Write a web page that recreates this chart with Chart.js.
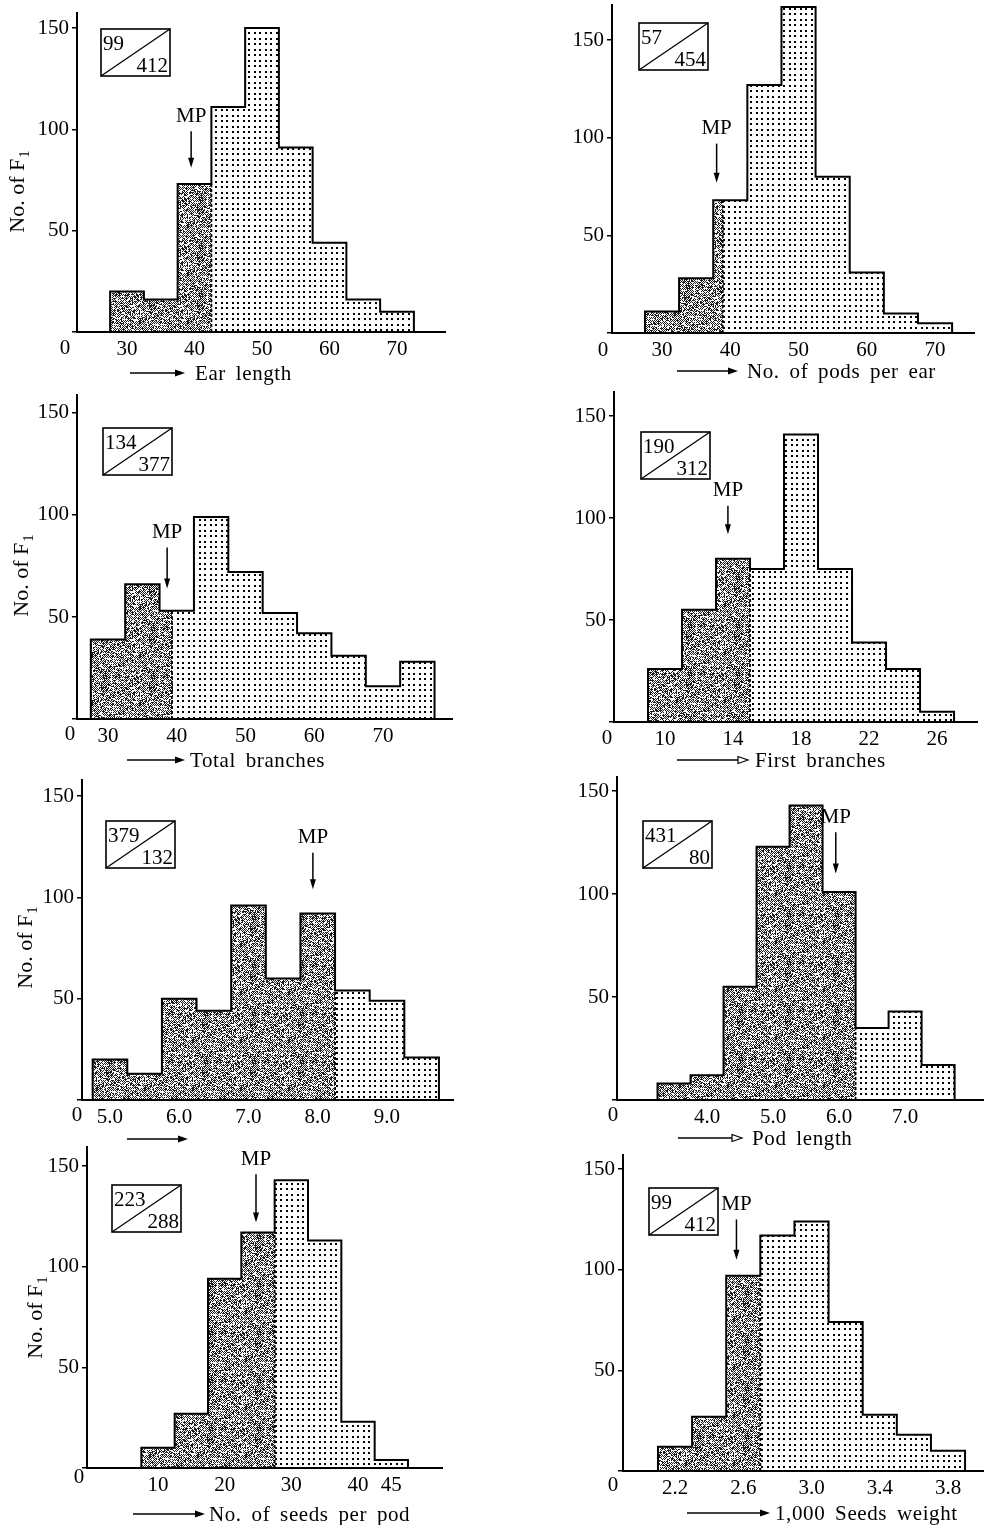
<!DOCTYPE html>
<html>
<head>
<meta charset="utf-8">
<script src="https://cdn.jsdelivr.net/npm/chart.js@4.4.1/dist/chart.umd.min.js"></script>
<style>
  html, body { margin: 0; padding: 0; background: #fff; overflow: hidden; }
  #sheet { position: relative; width: 984px; height: 1525px; }
  #sheet canvas { position: absolute; }
</style>
</head>
<body>
<div id="sheet"></div>
<script>
// ---- data: bin edges, counts per bin, x ticks ----
const yTicks = [0, 50, 100, 150];

// Ear length
const earEdges = [27.5, 32.5, 37.5, 42.5, 47.5, 52.5, 57.5, 62.5, 67.5, 72.5];
const earCounts = [20, 16, 73, 111, 150, 91, 44, 16, 10];
const earTicks = [30, 40, 50, 60, 70];
const earTickLabels = ['30', '40', '50', '60', '70'];
const earMP = 39.5, earSplit = 42.5, earRatio = ['99', '412'];

// No. of pods per ear
const podsEdges = [27.5, 32.5, 37.5, 42.5, 47.5, 52.5, 57.5, 62.5, 67.5, 72.5];
const podsCounts = [11, 28, 68, 127, 167, 80, 31, 10, 5];
const podsTicks = [30, 40, 50, 60, 70];
const podsTickLabels = ['30', '40', '50', '60', '70'];
const podsMP = 38.0, podsSplit = 38.9, podsRatio = ['57', '454'];

// Total branches
const totalEdges = [27.5, 32.5, 37.5, 42.5, 47.5, 52.5, 57.5, 62.5, 67.5, 72.5, 77.5];
const totalCounts = [39, 66, 53, 99, 72, 52, 42, 31, 16, 28];
const totalTicks = [30, 40, 50, 60, 70];
const totalTickLabels = ['30', '40', '50', '60', '70'];
const totalMP = 38.6, totalSplit = 39.3, totalRatio = ['134', '377'];

// First branches
const firstEdges = [9, 11, 13, 15, 17, 19, 21, 23, 25, 27];
const firstCounts = [26, 55, 80, 75, 141, 75, 39, 26, 5];
const firstTicks = [10, 14, 18, 22, 26];
const firstTickLabels = ['10', '14', '18', '22', '26'];
const firstMP = 13.7, firstSplit = 15, firstRatio = ['190', '312'];

// third row, left (axis title missing in the original)
const p5Edges = [4.75, 5.25, 5.75, 6.25, 6.75, 7.25, 7.75, 8.25, 8.75, 9.25, 9.75];
const p5Counts = [20, 13, 50, 44, 96, 60, 92, 54, 49, 21];
const p5Ticks = [5, 6, 7, 8, 9];
const p5TickLabels = ['5.0', '6.0', '7.0', '8.0', '9.0'];
const p5MP = 7.93, p5Split = 8.25, p5Ratio = ['379', '132'];

// Pod length
const podLenEdges = [3.25, 3.75, 4.25, 4.75, 5.25, 5.75, 6.25, 6.75, 7.25, 7.75];
const podLenCounts = [8, 12, 55, 123, 143, 101, 35, 43, 17];
const podLenTicks = [4, 5, 6, 7];
const podLenTickLabels = ['4.0', '5.0', '6.0', '7.0'];
const podLenMP = 5.95, podLenSplit = 6.25, podLenRatio = ['431', '80'];

// No. of seeds per pod
const seedsEdges = [7.5, 12.5, 17.5, 22.5, 27.5, 32.5, 37.5, 42.5, 47.5];
const seedsCounts = [10, 27, 94, 117, 143, 113, 23, 4];
const seedsTicks = [10, 20, 30, 40, 45];
const seedsTickLabels = ['10', '20', '30', '40', '45'];
const seedsMP = 24.7, seedsSplit = 27.5, seedsRatio = ['223', '288'];

// 1,000 seeds weight
const weightEdges = [2.1, 2.3, 2.5, 2.7, 2.9, 3.1, 3.3, 3.5, 3.7, 3.9];
const weightCounts = [12, 27, 97, 117, 124, 74, 28, 18, 10];
const weightTicks = [2.2, 2.6, 3.0, 3.4, 3.8];
const weightTickLabels = ['2.2', '2.6', '3.0', '3.4', '3.8'];
const weightMP = 2.56, weightSplit = 2.7, weightRatio = ['99', '412'];

// ---- layout ----
const SERIF = '"Liberation Serif", "DejaVu Serif", serif';
const Y_W = 77, PAD_T = 20, PAD_R = 8, X_H = 64;

const panels = [
  { edges: earEdges, counts: earCounts, ticks: earTicks, labels: earTickLabels, mp: earMP, split: earSplit, ratio: earRatio,
    title: 'Ear length', area: [77, 13, 445, 332], xRange: [22.59, 77.11], yMax: 157.4, mpArrow: [99, 81],
    zero: [65, 348], yTitle: [18, 192], xTitle: { a: [130, 185], tx: 195, y: 373, open: false }, box: [24, 16] },
  { edges: podsEdges, counts: podsCounts, ticks: podsTicks, labels: podsTickLabels, mp: podsMP, split: podsSplit, ratio: podsRatio,
    title: 'No. of pods per ear', area: [612, 5, 974, 333], xRange: [22.67, 75.71], yMax: 168, mpArrow: [97, 77],
    zero: [603, 350], yTitle: null, xTitle: { a: [677, 738], tx: 747, y: 371, open: false }, box: [27, 18] },
  { edges: totalEdges, counts: totalCounts, ticks: totalTicks, labels: totalTickLabels, mp: totalMP, split: totalSplit, ratio: totalRatio,
    title: 'Total branches', area: [77, 395, 452, 719], xRange: [25.49, 80.04], yMax: 158.8, mpArrow: [84, 64],
    zero: [70, 734], yTitle: [22, 576], xTitle: { a: [127, 185], tx: 190, y: 760, open: false }, box: [26, 33] },
  { edges: firstEdges, counts: firstCounts, ticks: firstTicks, labels: firstTickLabels, mp: firstMP, split: firstSplit, ratio: firstRatio,
    title: 'First branches', area: [614, 392, 977, 722], xRange: [7.0, 28.35], yMax: 161.8, mpArrow: [106, 92],
    zero: [607, 738], yTitle: null, xTitle: { a: [677, 748], tx: 755, y: 760, open: true }, box: [27, 40] },
  { edges: p5Edges, counts: p5Counts, ticks: p5Ticks, labels: p5TickLabels, mp: p5MP, split: p5Split, ratio: p5Ratio,
    title: '', area: [82, 780, 453, 1100], xRange: [4.596, 9.953], yMax: 157.9, mpArrow: [122, 104],
    zero: [77, 1115], yTitle: [26, 948], xTitle: { a: [127, 188], tx: 0, y: 1139, open: false }, box: [24, 41] },
  { edges: podLenEdges, counts: podLenCounts, ticks: podLenTicks, labels: podLenTickLabels, mp: podLenMP, split: podLenSplit, ratio: podLenRatio,
    title: 'Pod length', area: [617, 777, 983, 1100], xRange: [2.636, 8.18], yMax: 156.8, mpArrow: [130, 110],
    zero: [613, 1115], yTitle: null, xTitle: { a: [678, 742], tx: 752, y: 1138, open: true }, box: [26, 44] },
  { edges: seedsEdges, counts: seedsCounts, ticks: seedsTicks, labels: seedsTickLabels, mp: seedsMP, split: seedsSplit, ratio: seedsRatio,
    title: 'No. of seeds per pod', area: [87, 1147, 442, 1468], xRange: [-0.65, 52.6], yMax: 159.5, mpArrow: [146, 122],
    zero: [79, 1477], yTitle: [36, 1318], xTitle: { a: [133, 205], tx: 209, y: 1514, open: false }, box: [25, 38] },
  { edges: weightEdges, counts: weightCounts, ticks: weightTicks, labels: weightTickLabels, mp: weightMP, split: weightSplit, ratio: weightRatio,
    title: '1,000 Seeds weight', area: [623, 1155, 984, 1471], xRange: [1.895, 4.011], yMax: 157, mpArrow: [125, 105],
    zero: [613, 1485], yTitle: null, xTitle: { a: [687, 770], tx: 775, y: 1513, open: false }, box: [26, 33] }
];

// ---- fill textures ----
function makeDotPattern() {
  const c = document.createElement('canvas');
  c.width = 11; c.height = 11;
  const g = c.getContext('2d');
  g.fillStyle = '#fff'; g.fillRect(0, 0, 11, 11);
  g.fillStyle = '#000';
  [1, 6].forEach(x => [1, 6].forEach(y => g.fillRect(x, y, 2, 2)));
  return g.createPattern(c, 'repeat');
}
function makeDarkPattern() {
  const n = 48;
  const c = document.createElement('canvas');
  c.width = n; c.height = n;
  const g = c.getContext('2d');
  const img = g.createImageData(n, n);
  for (let y = 0; y < n; y++) {
    for (let x = 0; x < n; x++) {
      let h = Math.sin(x * 12.9898 + y * 78.233) * 43758.5453;
      h = h - Math.floor(h);
      const on = ((x + y) % 2 === 0) ? h < 0.78 : h < 0.18;
      const v = on ? 30 : 250, k = (y * n + x) * 4;
      img.data[k] = img.data[k + 1] = img.data[k + 2] = v;
      img.data[k + 3] = 255;
    }
  }
  g.putImageData(img, 0, 0);
  return g.createPattern(c, 'repeat');
}
const dotPat = makeDotPattern();
const darkPat = makeDarkPattern();

// value of the bin holding x (fromLeft: bin ending at x)
function binAt(edges, counts, x, fromLeft) {
  for (let i = 0; i < counts.length; i++) {
    const inside = fromLeft ? (x > edges[i] && x <= edges[i + 1]) : (x >= edges[i] && x < edges[i + 1]);
    if (inside) return counts[i];
  }
  return 0;
}
// stepped outline points of the histogram between two x values
function stepPoints(edges, counts, from, to) {
  const pts = [{ x: from, y: 0 }, { x: from, y: binAt(edges, counts, from, false) }];
  for (let i = 0; i < counts.length; i++) {
    if (edges[i] > from && edges[i] < to) pts.push({ x: edges[i], y: counts[i] });
  }
  pts.push({ x: to, y: binAt(edges, counts, to, true) });
  pts.push({ x: to, y: 0 });
  return pts;
}

function decoPlugin(p, left, top) {
  return {
    id: 'deco',
    afterDraw(chart) {
      const ctx = chart.ctx, xs = chart.scales.x, ys = chart.scales.y, ca = chart.chartArea;
      ctx.save();
      ctx.fillStyle = '#000';
      ctx.strokeStyle = '#000';

      // origin label
      ctx.font = '21px ' + SERIF;
      ctx.textAlign = 'center';
      ctx.textBaseline = 'middle';
      ctx.fillText('0', p.zero[0] - left, p.zero[1] - top);

      // y title with subscript
      if (p.yTitle) {
        ctx.save();
        ctx.translate(p.yTitle[0] - left, p.yTitle[1] - top);
        ctx.rotate(-Math.PI / 2);
        ctx.textAlign = 'left';
        ctx.font = '22px ' + SERIF;
        const w1 = ctx.measureText('No. of F').width;
        ctx.font = '15px ' + SERIF;
        const w2 = ctx.measureText('1').width;
        const x0 = -(w1 + w2) / 2;
        ctx.font = '22px ' + SERIF;
        ctx.fillText('No. of F', x0, 0);
        ctx.font = '15px ' + SERIF;
        ctx.fillText('1', x0 + w1 + 1, 7);
        ctx.restore();
      }

      // x title: arrow + text
      const t = p.xTitle, ay = t.y - top, ax0 = t.a[0] - left, ax1 = t.a[1] - left;
      ctx.lineWidth = 1.5;
      ctx.beginPath();
      ctx.moveTo(ax0, ay);
      ctx.lineTo(t.open ? ax1 - 9 : ax1 - 4, ay);
      ctx.stroke();
      ctx.beginPath();
      ctx.moveTo(ax1 - 10, ay - 3.5);
      ctx.lineTo(ax1, ay);
      ctx.lineTo(ax1 - 10, ay + 3.5);
      ctx.closePath();
      if (t.open) {
        ctx.fillStyle = '#fff'; ctx.fill(); ctx.lineWidth = 1.2; ctx.stroke(); ctx.fillStyle = '#000';
      } else {
        ctx.fill();
      }
      if (p.title) {
        ctx.font = '21px ' + SERIF;
        ctx.textAlign = 'left';
        ctx.textBaseline = 'middle';
        ctx.letterSpacing = '0.6px';
        ctx.wordSpacing = '4px';
        ctx.fillText(p.title, t.tx - left, ay + 1);
        ctx.letterSpacing = '0px';
        ctx.wordSpacing = '0px';
      }

      // MP arrow
      const mx = xs.getPixelForValue(p.mp);
      const y1 = ys.getPixelForValue(p.mpArrow[0]), y2 = ys.getPixelForValue(p.mpArrow[1]);
      ctx.lineWidth = 1.5;
      ctx.beginPath();
      ctx.moveTo(mx, y1);
      ctx.lineTo(mx, y2 - 6);
      ctx.stroke();
      ctx.beginPath();
      ctx.moveTo(mx - 3, y2 - 10);
      ctx.lineTo(mx + 3, y2 - 10);
      ctx.lineTo(mx, y2);
      ctx.closePath();
      ctx.fill();
      ctx.font = '21px ' + SERIF;
      ctx.textAlign = 'center';
      ctx.textBaseline = 'middle';
      ctx.fillText('MP', mx, y1 - 15);

      // ratio box
      const bx = ca.left + p.box[0], by = ca.top + p.box[1], bw = 69, bh = 47;
      ctx.lineWidth = 1.6;
      ctx.strokeRect(bx, by, bw, bh);
      ctx.lineWidth = 1.3;
      ctx.beginPath();
      ctx.moveTo(bx, by + bh);
      ctx.lineTo(bx + bw, by);
      ctx.stroke();
      ctx.font = '21px ' + SERIF;
      ctx.textBaseline = 'alphabetic';
      ctx.textAlign = 'left';
      ctx.fillText(p.ratio[0], bx + 2, by + 21);
      ctx.textAlign = 'right';
      ctx.fillText(p.ratio[1], bx + bw - 2, by + bh - 4);
      ctx.restore();
    }
  };
}

const sheet = document.getElementById('sheet');

panels.forEach(p => {
  const [l, t, r, b] = p.area;
  const left = l - Y_W, top = t - PAD_T;
  const w = (r - l) + Y_W + PAD_R, h = (b - t) + PAD_T + X_H;
  const cv = document.createElement('canvas');
  cv.width = w; cv.height = h;
  cv.style.left = left + 'px'; cv.style.top = top + 'px';
  cv.style.width = w + 'px'; cv.style.height = h + 'px';
  sheet.appendChild(cv);

  const first = p.edges[0], last = p.edges[p.edges.length - 1];
  const splitTop = Math.min(binAt(p.edges, p.counts, p.split, true), binAt(p.edges, p.counts, p.split, false));

  new Chart(cv, {
    type: 'line',
    data: {
      datasets: [
        { data: stepPoints(p.edges, p.counts, first, last), stepped: true, fill: false,
          borderColor: '#000', borderWidth: 2, pointRadius: 0 },
        { data: [{ x: p.split, y: 0 }, { x: p.split, y: splitTop }], fill: false,
          borderColor: '#000', borderWidth: 1.8, borderDash: [3, 2], pointRadius: 0 },
        { data: stepPoints(p.edges, p.counts, first, p.split), stepped: true, fill: 'origin',
          backgroundColor: darkPat, borderColor: 'transparent', borderWidth: 0, pointRadius: 0 },
        { data: stepPoints(p.edges, p.counts, p.split, last), stepped: true, fill: 'origin',
          backgroundColor: dotPat, borderColor: 'transparent', borderWidth: 0, pointRadius: 0 }
      ]
    },
    options: {
      responsive: false,
      animation: false,
      devicePixelRatio: 1,
      events: [],
      layout: { padding: { top: PAD_T, right: PAD_R, left: 0, bottom: 0 } },
      plugins: { legend: { display: false }, tooltip: { enabled: false } },
      scales: {
        x: {
          type: 'linear',
          min: p.xRange[0],
          max: p.xRange[1],
          afterBuildTicks: s => { s.ticks = p.ticks.map(v => ({ value: v })); },
          afterFit: s => { s.height = X_H; },
          ticks: {
            callback: (v, i) => p.labels[i],
            color: '#000',
            font: { family: SERIF, size: 21 },
            padding: 5,
            maxRotation: 0,
            autoSkip: false
          },
          grid: { display: false, drawTicks: false },
          border: { display: true, color: '#000', width: 2, z: 1 }
        },
        y: {
          min: 0,
          max: p.yMax,
          afterBuildTicks: s => { s.ticks = yTicks.map(v => ({ value: v })); },
          afterFit: s => { s.width = Y_W; },
          ticks: {
            callback: v => (v === 0 ? '' : String(v)),
            color: '#000',
            font: { family: SERIF, size: 21 },
            padding: 3
          },
          grid: { drawOnChartArea: false, drawTicks: true, tickLength: 5, color: '#000', lineWidth: 1.5 },
          border: { display: true, color: '#000', width: 2, z: 1 }
        }
      }
    },
    plugins: [decoPlugin(p, left, top)]
  });
});
</script>
</body>
</html>
